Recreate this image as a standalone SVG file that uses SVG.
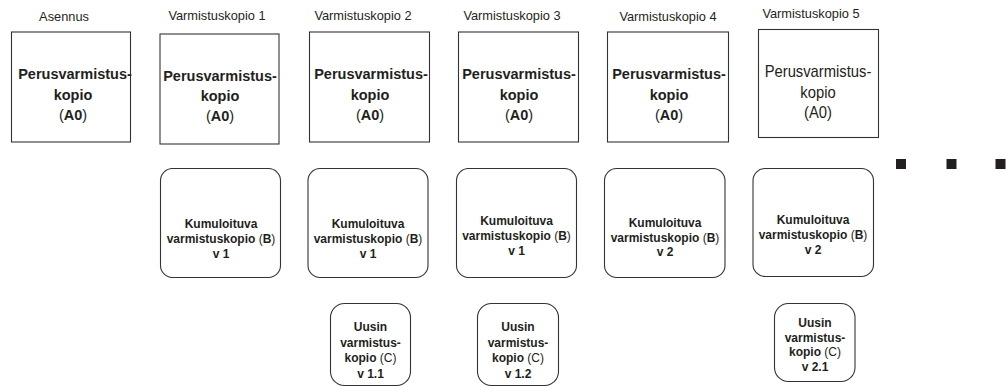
<svg xmlns="http://www.w3.org/2000/svg" width="1006" height="387" viewBox="0 0 1006 387">
<style>
text{font-family:"Liberation Sans",Arial,sans-serif;fill:#231f20;text-anchor:middle}
.hdr{font-size:12.8px}
.box{fill:#fff;stroke:#333;stroke-width:1.1}
.a{font-size:14.5px;font-weight:bold}
.a5{font-size:17px}
.b{font-size:12px;font-weight:bold}
.n{font-weight:normal}
.dot{fill:#231f20}
</style>
<g id="headers">
<text class="hdr" x="64" y="20.5">Asennus</text>
<text class="hdr" x="217" y="20">Varmistuskopio 1</text>
<text class="hdr" x="363" y="20">Varmistuskopio 2</text>
<text class="hdr" x="512" y="20">Varmistuskopio 3</text>
<text class="hdr" x="668" y="20.5">Varmistuskopio 4</text>
<text class="hdr" x="811" y="18.3">Varmistuskopio 5</text>
</g>
<g id="a0">
<rect class="box" x="11.5" y="32" width="119" height="110"/>
<text class="a" x="75" y="79">Perusvarmistus-</text>
<text class="a" x="73" y="99.5">kopio</text>
<text class="a" x="73" y="119.5"><tspan class="n">(</tspan>A0<tspan class="n">)</tspan></text>
</g>
<g id="a1">
<rect class="box" x="160" y="34" width="119" height="110"/>
<text class="a" x="220" y="80.5">Perusvarmistus-</text>
<text class="a" x="220" y="101">kopio</text>
<text class="a" x="220" y="121"><tspan class="n">(</tspan>A0<tspan class="n">)</tspan></text>
</g>
<g id="a2">
<rect class="box" x="309.5" y="32" width="120" height="110"/>
<text class="a" x="371" y="79">Perusvarmistus-</text>
<text class="a" x="370" y="99.5">kopio</text>
<text class="a" x="370" y="119.5"><tspan class="n">(</tspan>A0<tspan class="n">)</tspan></text>
</g>
<g id="a3">
<rect class="box" x="458.5" y="32" width="120" height="110"/>
<text class="a" x="519" y="79">Perusvarmistus-</text>
<text class="a" x="519" y="99.5">kopio</text>
<text class="a" x="519" y="119.5"><tspan class="n">(</tspan>A0<tspan class="n">)</tspan></text>
</g>
<g id="a4">
<rect class="box" x="607.5" y="32" width="121" height="110"/>
<text class="a" x="669" y="79">Perusvarmistus-</text>
<text class="a" x="669" y="99.5">kopio</text>
<text class="a" x="669" y="119.5"><tspan class="n">(</tspan>A0<tspan class="n">)</tspan></text>
</g>
<g id="a5">
<rect class="box" x="758.5" y="29.5" width="120" height="108"/>
<g transform="translate(818,0) scale(0.87,1)">
<text class="a5" x="0" y="77">Perusvarmistus-</text>
<text class="a5" x="0" y="98">kopio</text>
<text class="a5" x="0" y="118.5">(A0)</text>
</g>
</g>
<g id="b1">
<rect class="box" x="160.5" y="168.5" width="120" height="109" rx="12"/>
<text class="b" x="221" y="228">Kumuloituva</text>
<text class="b" x="221" y="243">varmistuskopio <tspan class="n">(</tspan>B<tspan class="n">)</tspan></text>
<text class="b" x="221" y="257.5">v 1</text>
</g>
<g id="b2">
<rect class="box" x="308" y="168.5" width="120" height="109" rx="12"/>
<text class="b" x="368" y="228">Kumuloituva</text>
<text class="b" x="368" y="243">varmistuskopio <tspan class="n">(</tspan>B<tspan class="n">)</tspan></text>
<text class="b" x="368" y="257.5">v 1</text>
</g>
<g id="b3">
<rect class="box" x="456.5" y="168.5" width="120" height="109" rx="12"/>
<text class="b" x="516.5" y="225">Kumuloituva</text>
<text class="b" x="516.5" y="240">varmistuskopio <tspan class="n">(</tspan>B<tspan class="n">)</tspan></text>
<text class="b" x="516.5" y="254.5">v 1</text>
</g>
<g id="b4">
<rect class="box" x="604.5" y="168.5" width="120.5" height="109" rx="12"/>
<text class="b" x="665" y="227">Kumuloituva</text>
<text class="b" x="665" y="242">varmistuskopio <tspan class="n">(</tspan>B<tspan class="n">)</tspan></text>
<text class="b" x="665" y="256">v 2</text>
</g>
<g id="b5">
<rect class="box" x="753" y="168.5" width="120.5" height="108" rx="12"/>
<text class="b" x="813" y="224">Kumuloituva</text>
<text class="b" x="813" y="239">varmistuskopio <tspan class="n">(</tspan>B<tspan class="n">)</tspan></text>
<text class="b" x="813" y="253.5">v 2</text>
</g>
<g id="c1">
<rect class="box" x="330.5" y="303.5" width="80" height="82" rx="14"/>
<text class="b" x="370.5" y="331">Uusin</text>
<text class="b" x="370.5" y="346.5">varmistus-</text>
<text class="b" x="370.5" y="362">kopio <tspan class="n">(C)</tspan></text>
<text class="b" x="370.5" y="377.5">v 1.1</text>
</g>
<g id="c2">
<rect class="box" x="477.5" y="303.5" width="81" height="82" rx="14"/>
<text class="b" x="518" y="331">Uusin</text>
<text class="b" x="518" y="346.5">varmistus-</text>
<text class="b" x="518" y="362">kopio <tspan class="n">(C)</tspan></text>
<text class="b" x="518" y="377.5">v 1.2</text>
</g>
<g id="c3">
<rect class="box" x="774.5" y="303.5" width="80.5" height="78" rx="14"/>
<text class="b" x="815" y="327">Uusin</text>
<text class="b" x="815" y="341.5">varmistus-</text>
<text class="b" x="815" y="356">kopio <tspan class="n">(C)</tspan></text>
<text class="b" x="815" y="371">v 2.1</text>
</g>
<g id="ellipsis">
<rect class="dot" x="896" y="159" width="10" height="10"/>
<rect class="dot" x="946.5" y="159" width="10" height="10"/>
<rect class="dot" x="995.5" y="159" width="10" height="10"/>
</g>
<g id="connectors"></g>
</svg>
